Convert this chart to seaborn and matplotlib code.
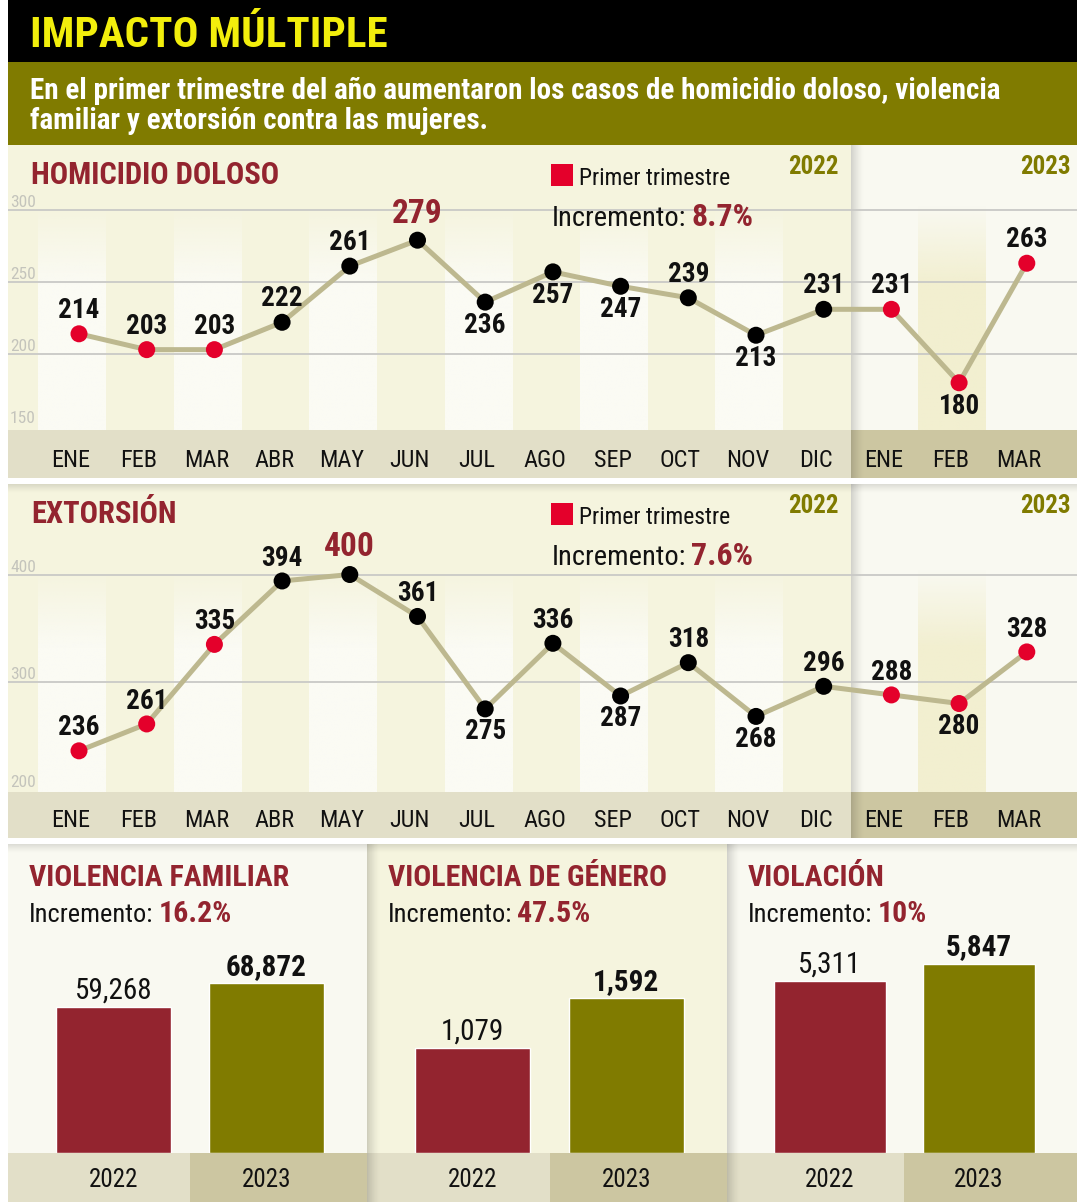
import matplotlib
matplotlib.use("Agg")
import numpy as np
import pandas as pd
import matplotlib.pyplot as plt
import matplotlib.transforms as mtransforms
from matplotlib import font_manager
from matplotlib.patches import Rectangle
import seaborn as sns

# ---------------- datos ----------------
meses = ["ENE", "FEB", "MAR", "ABR", "MAY", "JUN", "JUL", "AGO", "SEP", "OCT",
         "NOV", "DIC", "ENE", "FEB", "MAR"]
homicidio = [214, 203, 203, 222, 261, 279, 236, 257, 247, 239, 213, 231, 231, 180, 263]
extorsion = [236, 261, 335, 394, 400, 361, 275, 336, 287, 318, 268, 296, 288, 280, 328]
trimestre = ["Primer trimestre"] * 3 + ["Resto"] * 9 + ["Primer trimestre"] * 3
inc_homicidio = "8.7%"
inc_extorsion = "7.6%"

categorias = ["VIOLENCIA FAMILIAR", "VIOLENCIA DE GÉNERO", "VIOLACIÓN"]
incrementos = ["16.2%", "47.5%", "10%"]
anios = ["2022", "2023"]
valores_2022 = [59268, 1079, 5311]
valores_2023 = [68872, 1592, 5847]

# ---------------- estilo ----------------
W, H = 1077, 1202
RED_DARK = "#93242f"
OLIVE = "#807b00"
RED_PT = "#e4002b"
LINE = "#bdb88f"
GRID = "#c9c9c6"
BG22 = "#f5f4de"
BG23 = "#f9f9f1"
STRIPE22 = "#fbfbf4"
STRIPE23 = "#f2efd0"
BAND22 = "#e2dfc8"
BAND23 = "#ccc6a1"
INK = "#111111"

X0, XSTEP = 79, 67.7          # pixel position of month 0 and spacing

sns.set_style("white")
avail = {f.name for f in font_manager.fontManager.ttflist}


def pick(*names):
    for n in names:
        if n in avail:
            return n
    return "DejaVu Sans"


COND = pick("Liberation Sans Narrow", "Roboto Condensed", "Open Sans Condensed", "Roboto")
plt.rcParams["font.family"] = [COND, "DejaVu Sans"]

fig = plt.figure(figsize=(W / 100, H / 100), dpi=100)
fig.patch.set_facecolor("white")
renderer = fig.canvas.get_renderer()


def rect(x0, y0, x1, y1):
    return [x0 / W, 1 - y1 / H, (x1 - x0) / W, (y1 - y0) / H]


bg = fig.add_axes([0, 0, 1, 1], zorder=0)
top = fig.add_axes([0, 0, 1, 1], zorder=5)
for a in (bg, top):
    a.axis("off")
top.patch.set_alpha(0)


def box(x0, y0, x1, y1, c, ax=None, z=0):
    (ax or bg).add_patch(Rectangle((x0, y0), x1 - x0, y1 - y0, facecolor=c,
                                   edgecolor="none", zorder=z))


def shadow(x0, y0, x1, y1, vertical=False, a=0.16):
    g = np.linspace(a, 0, 40) ** 1.5 / a ** 0.5
    if vertical:
        img = np.zeros((40, 1, 4))
        img[:, 0, 3] = g
    else:
        img = np.zeros((1, 40, 4))
        img[0, :, 3] = g
    bg.imshow(img, extent=[x0, x1, y1, y0], aspect="auto", zorder=2,
              interpolation="bilinear")


def label(x, y, s, size, color=INK, weight="normal", ha="left"):
    return top.text(x, y, s, fontsize=size, color=color, fontweight=weight,
                    ha=ha, va="baseline")


def incremento(x, y, pct, s1, s2):
    t = label(x, y, "Incremento:", s1)
    w = t.get_window_extent(renderer).width
    label(x + w + 5, y, pct, s2, color=RED_DARK, weight="bold")


# ---------------- cabecera ----------------
box(8, 0, W, 62, "black")
box(8, 62, W, 145, OLIVE)
label(30, 47, "IMPACTO MÚLTIPLE", 31, color="#f2ee0c", weight="bold")
label(30, 99, "En el primer trimestre del año aumentaron los casos de homicidio doloso, violencia",
      21, color="white", weight="bold")
label(30, 129, "familiar y extorsión contra las mujeres.", 21, color="white", weight="bold")


# ---------------- paneles de línea ----------------
def line_panel(y0, y1, yb, values, ylim, grid, ticks, below, titulo, pct, offs):
    x_split = X0 + XSTEP * 11.4
    box(8, y0, x_split, y1, BG22)
    box(x_split, y0, W, y1, BG23)
    box(8, y1, x_split, yb, BAND22)
    box(x_split, y1, W, yb, BAND23)
    shadow(x_split, y0, x_split + 14, yb)

    ax = fig.add_axes(rect(8, y0, W, y1), zorder=1)
    ax.patch.set_alpha(0)
    xl = (8 - X0) / XSTEP
    xr = (W - X0) / XSTEP

    # franjas por mes con degradado superior
    st_top = grid[0] + (ylim[1] - ylim[0]) * 0.02
    n = 60
    for i in range(len(values)):
        if i < 12 and i % 2 == 0:
            c = STRIPE22
        elif i == 13:
            c = STRIPE23
        else:
            continue
        img = np.zeros((n, 1, 4))
        img[..., :3] = matplotlib.colors.to_rgb(c)
        img[:, 0, 3] = np.clip(np.linspace(0, 1, n) / 0.35, 0, 1)
        ax.imshow(img, extent=[i - 0.6, i + 0.4, ylim[0], st_top], aspect="auto",
                  zorder=0, interpolation="bilinear")

    for g in grid:
        ax.axhline(g, color=GRID, lw=1.3, zorder=1)
    lab_tr = mtransforms.blended_transform_factory(top.transData, ax.transData)
    for t in ticks:
        ax.text(10, t, str(t), transform=lab_tr, fontsize=12.5, color="#c4c4bc",
                va="bottom", ha="left")

    df = pd.DataFrame({"i": np.arange(len(values)), "v": values, "t": trimestre})
    sns.lineplot(data=df, x="i", y="v", color=LINE, lw=3.6, ax=ax, zorder=3)
    sns.scatterplot(data=df, x="i", y="v", hue="t",
                    palette={"Primer trimestre": RED_PT, "Resto": "black"},
                    s=150, edgecolor="none", legend=False, ax=ax, zorder=4)

    imax = int(np.argmax(values))
    for i, v in enumerate(values):
        if i == imax:
            ax.annotate(str(v), (i, v), xytext=(0, offs[1]), textcoords="offset points",
                        ha="center", va="center", fontsize=24, fontweight="bold",
                        color=RED_DARK, zorder=6)
        else:
            d = -offs[0] if i in below else offs[0]
            ax.annotate(str(v), (i, v), xytext=(0, d), textcoords="offset points",
                        ha="center", va="center", fontsize=19.5, fontweight="bold",
                        color=INK, zorder=6)

    ax.set_xlim(xl, xr)
    ax.set_ylim(*ylim)
    ax.axis("off")

    mon_tr = mtransforms.blended_transform_factory(ax.transData, top.transData)
    base = y1 + (yb - y1) * 0.77
    for i, m in enumerate(meses):
        top.text(i - 0.12, base, m, transform=mon_tr, fontsize=17.5, color=INK,
                 ha="center", va="baseline")

    label(31, y0 + 39, titulo, 22, color=RED_DARK, weight="bold")
    box(551, y0 + 19, 573, y0 + 41, RED_PT, ax=top)
    label(579, y0 + 40, "Primer trimestre", 17)
    incremento(552, y0 + 81, pct, 20.5, 23)
    label(839, y0 + 29, "2022", 18, color=OLIVE, weight="bold", ha="right")
    label(1071, y0 + 29, "2023", 18, color=OLIVE, weight="bold", ha="right")


line_panel(145, 430, 478, homicidio, (147.2, 345.1), [300, 250, 200],
           [300, 250, 200, 150], {6, 7, 8, 10, 13}, "HOMICIDIO DOLOSO",
           inc_homicidio, (17, 19))
line_panel(484, 792, 838, extorsion, (197.7, 484.2), [400, 300],
           [400, 300, 200], {6, 8, 10, 13}, "EXTORSIÓN", inc_extorsion, (16.5, 20))
shadow(8, 484, W, 494, vertical=True, a=0.12)

# ---------------- paneles de barras ----------------
panels_x = [(8, 367), (367, 727), (727, W)]
panel_bg = [BG23, BG22, BG23]
bar_ymax = [125500, 3175, 9540]
XA, XB = -0.69, 1.657

for k, (x0, x1) in enumerate(panels_x):
    xm = x0 + (0.5 - XA) / (XB - XA) * (x1 - x0)
    box(x0, 844, x1, 1153, panel_bg[k])
    box(x0, 1153, xm, H, BAND22)
    box(xm, 1153, x1, H, BAND23)
    if k:
        shadow(x0, 844, x0 + 14, H)

    ax = fig.add_axes(rect(x0, 844, x1, 1153), zorder=1)
    ax.patch.set_alpha(0)
    df = pd.DataFrame({"anio": anios, "valor": [valores_2022[k], valores_2023[k]]})
    sns.barplot(data=df, x="anio", y="valor", hue="anio", palette=[RED_DARK, OLIVE],
                width=0.75, saturation=1, legend=False, ax=ax)
    for j, v in enumerate(df["valor"]):
        ax.annotate(f"{v:,}", (j, v), xytext=(0, 6), textcoords="offset points",
                    ha="center", va="baseline", fontsize=21,
                    fontweight="bold" if j == 1 else "normal", color=INK)
    ax.set_xlim(XA, XB)
    ax.set_ylim(0, bar_ymax[k])
    ax.axis("off")

    yr_tr = mtransforms.blended_transform_factory(ax.transData, top.transData)
    for j, a in enumerate(anios):
        top.text(j, 1187, a, transform=yr_tr, fontsize=18, color=INK,
                 ha="center", va="baseline")

    tx = x0 + 21
    label(tx, 886, categorias[k], 21.5, color=RED_DARK, weight="bold")
    incremento(tx, 922, incrementos[k], 19, 21.5)

shadow(8, 844, W, 854, vertical=True, a=0.12)

for a in (bg, top):
    a.set_xlim(0, W)
    a.set_ylim(H, 0)

fig.savefig("out.png", dpi=100)
